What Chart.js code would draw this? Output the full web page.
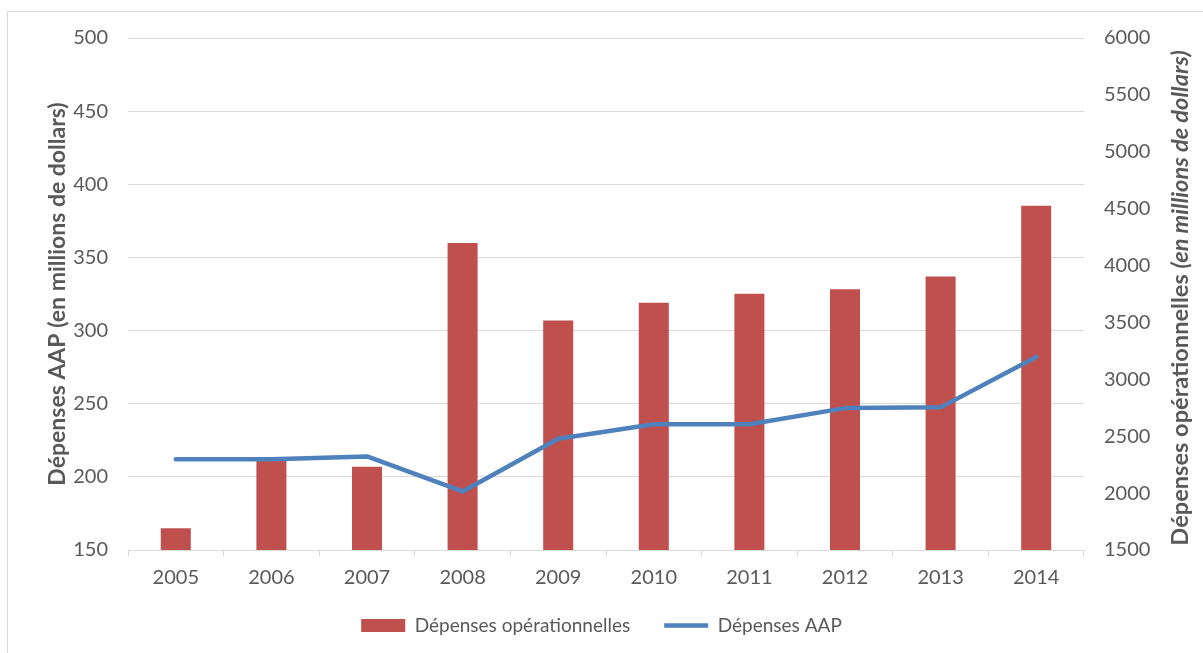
<!DOCTYPE html>
<html>
<head>
<meta charset="utf-8">
<script src="https://cdn.jsdelivr.net/npm/chart.js@4"></script>
<style>
  html, body { margin: 0; padding: 0; background: #fff; overflow: hidden; }
  #wrap { position: absolute; left: 0; top: 0; width: 1203px; height: 653px; }
  #frame { position: absolute; left: 7px; top: 11px; width: 1300px; height: 800px; border: 1px solid #D9D9D9; box-sizing: border-box; }
  canvas { position: absolute; left: 0; top: 0; }
</style>
</head>
<body>
<div id="wrap">
  <div id="frame"></div>
  <canvas id="c" width="1203" height="653"></canvas>
</div>
<script>
const years = ['2005','2006','2007','2008','2009','2010','2011','2012','2013','2014'];
const depensesOperationnelles = [1692, 2295, 2231, 4198, 3516, 3672, 3752, 3792, 3904, 4525];
const depensesAAP = [212, 212, 214, 190, 226, 236, 236, 247, 247.5, 282];
const leftTicks = [150, 500, 50];
const rightTicks = [1500, 6000, 500];
const leftTitle = 'Dépenses AAP (en millions de dollars)';
const rightTitleMain = 'Dépenses opérationnelles ';
const rightTitleItalic = '(en millions de dollars)';

const textColor = '#595959';
const gridColor = '#D9D9D9';
const FONT = 'Lato';

const rightTitlePlugin = {
  id: 'rightTitle',
  afterDraw(chart) {
    const ctx = chart.ctx;
    const area = chart.chartArea;
    ctx.save();
    ctx.fillStyle = textColor;
    ctx.textBaseline = 'middle';
    ctx.textAlign = 'left';
    const f1 = 'bold 23.6px ' + FONT;
    const f2 = 'italic bold 23.6px ' + FONT;
    ctx.font = f1; const w1 = ctx.measureText(rightTitleMain).width;
    ctx.font = f2; const w2 = ctx.measureText(rightTitleItalic).width;
    const cx = 1180, cy = (area.top + area.bottom) / 2 + 4;
    ctx.translate(cx, cy);
    ctx.rotate(-Math.PI / 2);
    const start = -(w1 + w2) / 2;
    ctx.font = f1; ctx.fillText(rightTitleMain, start, 0);
    ctx.font = f2; ctx.fillText(rightTitleItalic, start + w1, 0);
    ctx.restore();
  }
};

new Chart(document.getElementById('c'), {
  data: {
    labels: years,
    datasets: [
      {
        type: 'bar',
        label: 'Dépenses opérationnelles',
        data: depensesOperationnelles,
        yAxisID: 'yRight',
        backgroundColor: '#C0504D',
        borderWidth: 0,
        categoryPercentage: 1,
        barPercentage: 0.314,
        pointStyle: 'rect',
        order: 2
      },
      {
        type: 'line',
        label: 'Dépenses AAP',
        data: depensesAAP,
        yAxisID: 'yLeft',
        borderColor: '#4F81BD',
        backgroundColor: '#4F81BD',
        borderWidth: 4.5,
        borderCapStyle: 'round',
        borderJoinStyle: 'round',
        pointRadius: 0,
        tension: 0,
        pointStyle: 'line',
        order: 1
      }
    ]
  },
  options: {
    responsive: false,
    animation: false,
    devicePixelRatio: 1,
    layout: { padding: { top: 38, bottom: 8, left: 0, right: 0 } },
    plugins: {
      legend: {
        position: 'bottom',
        labels: {
          usePointStyle: true,
          pointStyleWidth: 44,
          boxHeight: 13,
          padding: 34,
          color: textColor,
          font: { family: FONT, size: 19 },
          sort: (a, b) => a.datasetIndex - b.datasetIndex
        }
      },
      tooltip: { enabled: false }
    },
    scales: {
      x: {
        offset: true,
        grid: { offset: true, drawOnChartArea: false, drawTicks: true, tickLength: 6, color: gridColor },
        border: { display: true, color: gridColor, width: 1 },
        ticks: { color: textColor, font: { family: FONT, size: 20 }, padding: 10, maxRotation: 0 },
        afterFit(scale) {
          scale.height = 32;
          scale._computeLabelArea = function () { return undefined; };
        }
      },
      yLeft: {
        type: 'linear',
        position: 'left',
        min: leftTicks[0], max: leftTicks[1],
        ticks: { stepSize: leftTicks[2], color: textColor, font: { family: FONT, size: 20 }, padding: 20, callback: v => String(v) },
        grid: { color: gridColor, drawTicks: false, lineWidth: 1 },
        border: { display: false },
        title: { display: true, text: leftTitle, color: textColor, font: { family: FONT, size: 23, weight: 'bold' }, padding: { top: 44, bottom: 0 } },
        afterFit(scale) { scale.width = 128; }
      },
      yRight: {
        type: 'linear',
        position: 'right',
        min: rightTicks[0], max: rightTicks[1],
        ticks: { stepSize: rightTicks[2], color: textColor, font: { family: FONT, size: 20 }, padding: 20, callback: v => String(v) },
        grid: { drawOnChartArea: false, drawTicks: false },
        border: { display: false },
        afterFit(scale) { scale.width = 119; }
      }
    }
  },
  plugins: [rightTitlePlugin]
});
</script>
</body>
</html>
